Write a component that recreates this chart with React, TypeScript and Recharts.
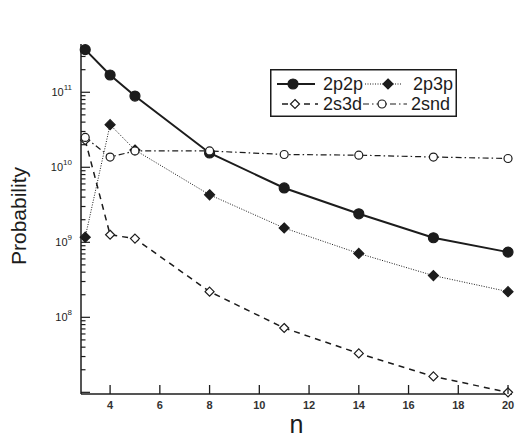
import React from 'react'
import { LineChart, Line, XAxis, YAxis, Legend } from 'recharts'

// values (log scale)
const nValues = [3, 4, 5, 8, 11, 14, 17, 20]
const p2p2p = [3.7e11, 1.7e11, 8.9e10, 1.55e10, 5.3e9, 2.4e9, 1.15e9, 7.4e8]
const p2p3p = [1.17e9, 3.7e10, 1.7e10, 4.3e9, 1.55e9, 7.1e8, 3.6e8, 2.2e8]
const s2s3d = [2.3e10, 1.26e9, 1.12e9, 2.2e8, 7.2e7, 3.3e7, 1.63e7, 1.0e7]
const s2snd = [2.5e10, 1.37e10, 1.65e10, 1.65e10, 1.48e10, 1.45e10, 1.37e10, 1.31e10]

const xTicks = [4, 6, 8, 10, 12, 14, 16, 18, 20]
const decades = [7, 8, 9, 10, 11]
const labelledDecades = [8, 9, 10, 11]
const minorSteps = [1, 2, 3, 4, 5, 6, 7, 8, 9]
const xDomain = [2.83, 20.16]
const yDomain = [9.5e6, 4.4e11]

const INK = '#1c1c1c'
const FONT = '"Liberation Sans", Arial, sans-serif'

const data = nValues.map((n, i) => ({
  n,
  p2p2p: p2p2p[i],
  p2p3p: p2p3p[i],
  s2s3d: s2s3d[i],
  s2snd: s2snd[i],
}))

const yTicks = decades
  .flatMap((e) => minorSteps.map((m) => m * Math.pow(10, e)))
  .filter((v) => v >= yDomain[0] && v <= yDomain[1])

type Shape = 'circle' | 'diamond'

const SERIES: {
  key: string
  name: string
  shape: Shape
  filled: boolean
  width: number
  dash?: string
}[] = [
  { key: 'p2p2p', name: '2p2p', shape: 'circle', filled: true, width: 2 },
  { key: 'p2p3p', name: '2p3p', shape: 'diamond', filled: true, width: 1, dash: '1 1.5' },
  { key: 's2s3d', name: '2s3d', shape: 'diamond', filled: false, width: 1.5, dash: '6 5' },
  { key: 's2snd', name: '2snd', shape: 'circle', filled: false, width: 1.2, dash: '6 3 1.5 3' },
]

function Marker({ cx, cy, shape, filled }: { cx: number; cy: number; shape: Shape; filled: boolean }) {
  const fill = filled ? INK : '#fff'
  if (shape === 'circle') {
    return <circle cx={cx} cy={cy} r={filled ? 5 : 4} fill={fill} stroke={INK} strokeWidth={1.2} />
  }
  const h = filled ? 5 : 4.5
  return (
    <polygon
      points={`${cx},${cy - h} ${cx + h},${cy} ${cx},${cy + h} ${cx - h},${cy}`}
      fill={fill}
      stroke={INK}
      strokeWidth={1.2}
    />
  )
}

const decadeOf = (v: number) => {
  const e = Math.log10(v)
  return Math.abs(e - Math.round(e)) < 1e-6 ? Math.round(e) : null
}

const LeftTick = (props: any) => {
  const { x, y, payload } = props
  const e = decadeOf(payload.value)
  const major = e !== null
  return (
    <g>
      <line x1={x} x2={x + (major ? 9 : 4.5)} y1={y} y2={y} stroke={INK} strokeWidth={1.2} />
      {major && labelledDecades.includes(e as number) && (
        <text x={x - 9} y={y + 4} textAnchor="end" fontFamily={FONT} fontSize={11} fill={INK}>
          10
          <tspan dy={-6} fontSize={8}>
            {e}
          </tspan>
        </text>
      )}
    </g>
  )
}

const RightTick = (props: any) => {
  const { x, y, payload } = props
  const major = decadeOf(payload.value) !== null
  return <line x1={x} x2={x - (major ? 9 : 4.5)} y1={y} y2={y} stroke={INK} strokeWidth={1.2} />
}

const BottomTick = (props: any) => {
  const { x, y, payload } = props
  return (
    <g>
      <line x1={x} x2={x} y1={y} y2={y - 9} stroke={INK} strokeWidth={1.3} />
      <text x={x} y={y + 15} textAnchor="middle" fontFamily={FONT} fontSize={11} fontWeight="bold" fill="#333">
        {payload.value}
      </text>
    </g>
  )
}

const TopTick = (props: any) => {
  const { x, y } = props
  return <line x1={x} x2={x} y1={y} y2={y + 9} stroke={INK} strokeWidth={1.3} />
}

// legend sample positions inside the box: [lineStart, lineEnd, marker, textX]
const legendSlots = [
  [7, 45, 23, 53],
  [95, 132, 118, 143],
  [12, 48, 25, 53],
  [93, 137, 112, 141],
]

function LegendBox() {
  return (
    <svg width={187} height={48} style={{ display: 'block' }}>
      <rect x={0.75} y={0.75} width={185.5} height={46.5} fill="#fff" stroke={INK} strokeWidth={1.5} />
      {SERIES.map((s, i) => {
        const [a, b, m, t] = legendSlots[i]
        const cy = i < 2 ? 15 : 35
        return (
          <g key={s.key}>
            <line x1={a} x2={b} y1={cy} y2={cy} stroke={INK} strokeWidth={s.width} strokeDasharray={s.dash} />
            <Marker cx={m} cy={cy} shape={s.shape} filled={s.filled} />
            <text x={t} y={cy + 6} fontFamily={FONT} fontSize={18} fill={INK}>
              {s.name}
            </text>
          </g>
        )
      })}
    </svg>
  )
}

export default function App() {
  return (
    <div style={{ position: 'absolute', left: 0, top: 0, width: 516, height: 439, background: '#fff' }}>
      <LineChart width={516} height={439} data={data} margin={{ top: 44, right: 4, bottom: 0, left: 21 }}>
        <XAxis
          xAxisId="bottom"
          dataKey="n"
          type="number"
          domain={xDomain}
          ticks={xTicks}
          interval={0}
          height={45}
          tickSize={0}
          tickMargin={0}
          tickLine={false}
          tick={<BottomTick />}
          axisLine={{ stroke: INK, strokeWidth: 1.5 }}
          label={{
            content: (p: any) => (
              <text
                x={p.viewBox.x + p.viewBox.width / 2}
                y={p.viewBox.y + 39}
                textAnchor="middle"
                fontFamily={FONT}
                fontSize={25}
                fill={INK}
              >
                n
              </text>
            ),
          }}
        />
        <XAxis
          xAxisId="top"
          dataKey="n"
          type="number"
          orientation="top"
          domain={xDomain}
          ticks={xTicks}
          interval={0}
          height={0}
          tickSize={0}
          tickMargin={0}
          tickLine={false}
          tick={<TopTick />}
          axisLine={{ stroke: INK, strokeWidth: 1.5 }}
          label={{
            content: (p: any) => (
              <text
                x={p.viewBox.x + p.viewBox.width / 2 - 21}
                y={p.viewBox.y - 17}
                textAnchor="middle"
                fontFamily={FONT}
                fontSize={23}
                fill={INK}
              >
                Ar(2pnd)
              </text>
            ),
          }}
        />
        <YAxis
          yAxisId="left"
          type="number"
          scale="log"
          domain={yDomain}
          ticks={yTicks}
          interval={0}
          width={60}
          tickSize={0}
          tickMargin={0}
          tickLine={false}
          tick={<LeftTick />}
          axisLine={{ stroke: INK, strokeWidth: 1.5 }}
          label={{
            content: (p: any) => {
              const cx = p.viewBox.x + 5
              const cy = p.viewBox.y + p.viewBox.height / 2 - 3
              return (
                <text
                  x={cx}
                  y={cy}
                  transform={`rotate(-90, ${cx}, ${cy})`}
                  textAnchor="middle"
                  fontFamily={FONT}
                  fontSize={21}
                  fill={INK}
                >
                  Probability
                </text>
              )
            },
          }}
        />
        <YAxis
          yAxisId="right"
          orientation="right"
          type="number"
          scale="log"
          domain={yDomain}
          ticks={yTicks}
          interval={0}
          width={0}
          tickSize={0}
          tickMargin={0}
          tickLine={false}
          tick={<RightTick />}
          axisLine={{ stroke: INK, strokeWidth: 1.5 }}
        />
        <Legend
          layout="vertical"
          verticalAlign="middle"
          align="center"
          content={() => <LegendBox />}
          wrapperStyle={{ left: 270, top: 69, width: 187, height: 48 }}
        />
        {SERIES.map((s) => (
          <Line
            key={s.key}
            xAxisId="bottom"
            yAxisId="left"
            dataKey={s.key}
            name={s.name}
            type="linear"
            stroke={INK}
            strokeWidth={s.width}
            strokeDasharray={s.dash}
            isAnimationActive={false}
            dot={(p: any) => (
              <Marker key={`${s.key}-${p.index}`} cx={p.cx} cy={p.cy} shape={s.shape} filled={s.filled} />
            )}
            activeDot={false}
          />
        ))}
      </LineChart>
    </div>
  )
}
